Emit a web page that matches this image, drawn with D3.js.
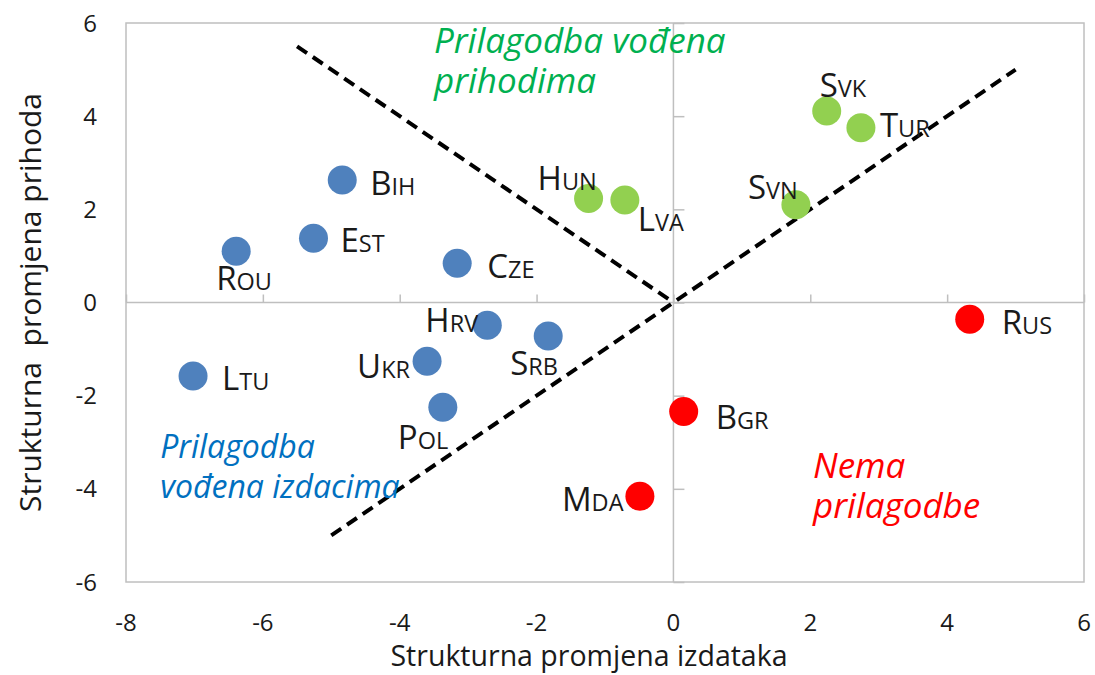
<!DOCTYPE html>
<html>
<head>
<meta charset="utf-8">
<script src="https://cdn.jsdelivr.net/npm/d3@7"></script>
<style>
  body { margin: 0; background: #fff; }
  text { font-family: "Open Sans", "Noto Sans", sans-serif; }
</style>
</head>
<body>
<div id="chart"></div>
<script>
const countries = ["BIH", "EST", "ROU", "CZE", "HRV", "SRB", "UKR", "POL", "LTU",
  "HUN", "LVA", "SVN", "SVK", "TUR", "BGR", "MDA", "RUS"];
const expenditureChange = [-4.84, -5.26, -6.39, -3.16, -2.72, -1.83, -3.60, -3.37, -7.02,
  -1.24, -0.71, 1.79, 2.24, 2.74, 0.15, -0.49, 4.33];
const revenueChange = [2.63, 1.38, 1.10, 0.84, -0.49, -0.72, -1.26, -2.25, -1.58,
  2.23, 2.20, 2.10, 4.11, 3.75, -2.34, -4.16, -0.36];
const adjustmentType = ["exp", "exp", "exp", "exp", "exp", "exp", "exp", "exp", "exp",
  "rev", "rev", "rev", "rev", "rev", "none", "none", "none"];

const xTicks = [-8, -6, -4, -2, 0, 2, 4, 6];
const yTicks = [-6, -4, -2, 0, 2, 4, 6];

// dividing lines
const upperLine = [[-5.5, 5.5], [0, 0]];
const lowerLine = [[-5, -5], [5, 5]];

const regionNotes = [
  { lines: ["Prilagodba vođena", "prihodima"], at: [-3.5, 5.36], type: "rev", size: 35 },
  { lines: ["Prilagodba", "vođena izdacima"], at: [-7.5, -3.34], type: "exp", size: 32 },
  { lines: ["Nema", "prilagodbe"], at: [2.04, -3.77], type: "none", size: 35 }
];

const dotColor = { exp: "#4F81BD", rev: "#92D050", none: "#FF0000" };
const noteColor = { exp: "#0070C0", rev: "#00B050", none: "#FF0000" };

// label offsets in px from the dot (text start, baseline)
const labelOffset = {
  BIH: [28, 15], EST: [27, 14], ROU: [-20, 39], CZE: [30, 15], HRV: [-62, 7],
  SRB: [-38, 39], UKR: [-70, 17], POL: [-45, 42], LTU: [29, 14], HUN: [-51, -9],
  LVA: [13, 31], SVN: [-48, -6], SVK: [-7, -14], TUR: [19, 9], BGR: [32, 17],
  MDA: [-78, 15], RUS: [32, 15]
};

const width = 1095, height = 675;
const margin = { top: 23, right: 11, bottom: 93, left: 126 };

const svg = d3.select("#chart").append("svg")
  .attr("width", width)
  .attr("height", height);

const x = d3.scaleLinear().domain([-8, 6]).range([margin.left, width - margin.right]);
const y = d3.scaleLinear().domain([-6, 6]).range([height - margin.bottom, margin.top]);

const grey = "#BFBFBF";

// plot frame
svg.append("rect")
  .attr("x", x(-8)).attr("y", y(6))
  .attr("width", x(6) - x(-8)).attr("height", y(-6) - y(6))
  .attr("fill", "none").attr("stroke", grey).attr("stroke-width", 1.5);

// axes through origin with inside ticks
const xAxis = svg.append("g")
  .attr("transform", `translate(0,${y(0)})`)
  .call(d3.axisTop(x).tickValues(xTicks).tickSize(8).tickFormat(""));
const yAxis = svg.append("g")
  .attr("transform", `translate(${x(0)},0)`)
  .call(d3.axisRight(y).tickValues(yTicks).tickSize(11).tickFormat(""));
[xAxis, yAxis].forEach(g => {
  g.selectAll("path, line").attr("stroke", grey).attr("stroke-width", 1.5);
  g.select(".domain").attr("d", g === xAxis
    ? `M${x(-8)},0H${x(6)}` : `M0,${y(-6)}V${y(6)}`);
});

// tick labels at the edges
svg.append("g").selectAll("text")
  .data(xTicks).join("text")
  .attr("x", d => x(d)).attr("y", 631)
  .attr("text-anchor", "middle")
  .attr("font-size", 24).attr("fill", "#1a1a1a")
  .text(d => d);

svg.append("g").selectAll("text")
  .data(yTicks).join("text")
  .attr("x", 97).attr("y", d => y(d) + 8.5)
  .attr("text-anchor", "end")
  .attr("font-size", 24).attr("fill", "#1a1a1a")
  .text(d => d);

// axis titles
svg.append("text")
  .attr("x", 589).attr("y", 666)
  .attr("text-anchor", "middle")
  .attr("font-size", 28.5).attr("fill", "#1a1a1a")
  .text("Strukturna promjena izdataka");

svg.append("text")
  .attr("transform", `translate(41,${y(0)}) rotate(-90)`)
  .attr("text-anchor", "middle")
  .attr("font-size", 30).attr("fill", "#1a1a1a")
  .style("white-space", "pre")
  .text("Strukturna  promjena prihoda");

// dashed dividers
const line = d3.line().x(d => x(d[0])).y(d => y(d[1]));
[upperLine, lowerLine].forEach(l => {
  svg.append("path")
    .attr("d", line(l))
    .attr("fill", "none")
    .attr("stroke", "#000")
    .attr("stroke-width", 4)
    .attr("stroke-dasharray", "12,7");
});

// region notes
regionNotes.forEach(n => {
  const t = svg.append("text")
    .attr("font-size", n.size).attr("font-style", "italic")
    .attr("fill", noteColor[n.type]);
  n.lines.forEach((s, i) => {
    t.append("tspan")
      .attr("x", x(n.at[0])).attr("y", y(n.at[1]) + i * 40)
      .text(s);
  });
});

// dots
const points = countries.map((c, i) => ({
  name: c, ex: expenditureChange[i], rev: revenueChange[i], type: adjustmentType[i]
}));

svg.append("g").selectAll("circle")
  .data(points).join("circle")
  .attr("cx", d => x(d.ex)).attr("cy", d => y(d.rev))
  .attr("r", 14.5)
  .attr("fill", d => dotColor[d.type]);

// country labels in small caps
const labels = svg.append("g").selectAll("text")
  .data(points).join("text")
  .attr("x", d => x(d.ex) + labelOffset[d.name][0])
  .attr("y", d => y(d.rev) + labelOffset[d.name][1])
  .attr("fill", "#1a1a1a");
labels.append("tspan").attr("font-size", 33).text(d => d.name[0]);
labels.append("tspan").attr("font-size", 23.5).text(d => d.name.slice(1));
</script>
</body>
</html>
